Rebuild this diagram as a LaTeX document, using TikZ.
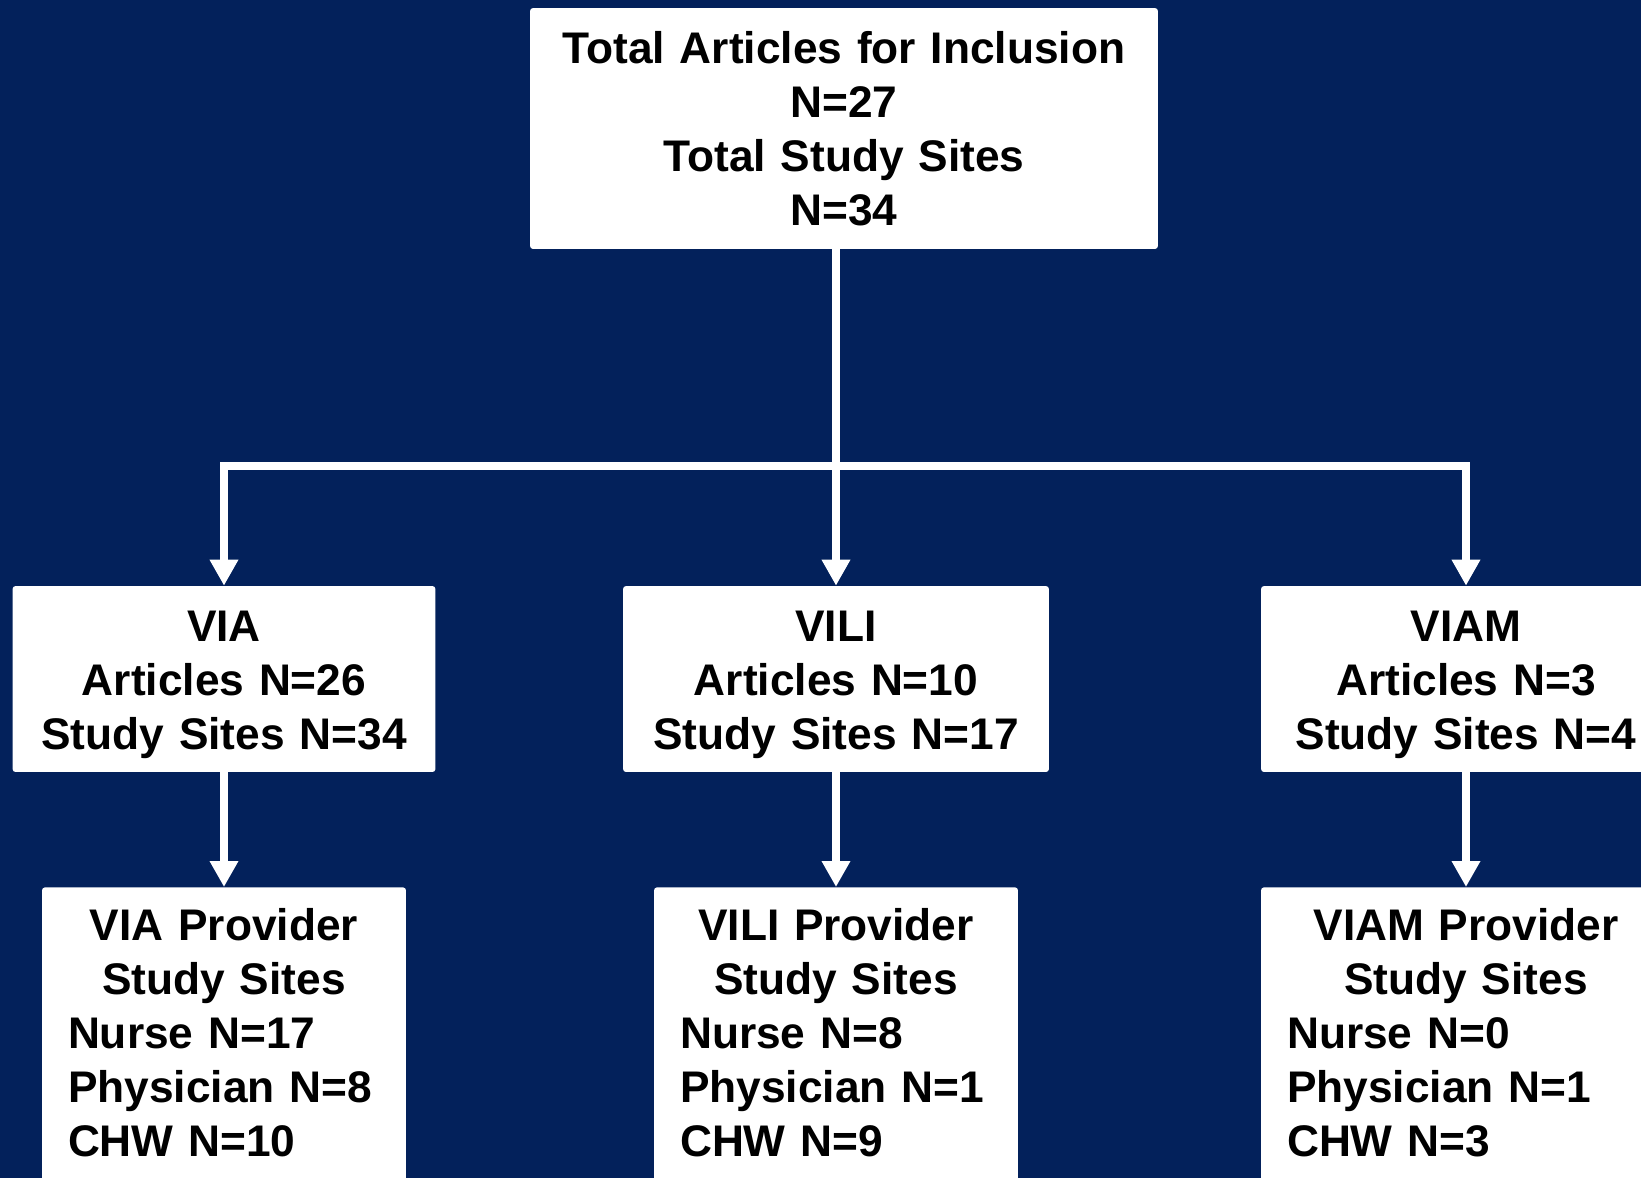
\documentclass[tikz,border=0pt]{standalone}
\usepackage{fontspec}
\setmainfont{Liberation Sans}
\usepackage{tikz}
\usetikzlibrary{arrows.meta,positioning}

\definecolor{navybg}{RGB}{3,33,91}

\begin{document}
\begin{tikzpicture}[x=0.02cm, y=-0.02cm,
        box/.style={fill=white, rounded corners=0.06cm, inner sep=0pt, align=center,
            font=\fontsize{25.2}{30.8}\selectfont\bfseries, text height=0.7cm},
        provbox/.style={fill=white, rounded corners=0.06cm, anchor=north,
            inner xsep=0.52cm, inner ysep=0.36cm, text height=0.7cm, text depth=4.84cm,
            font=\fontsize{25.2}{30.8}\selectfont\bfseries},
        link/.style={draw=white, line width=0.16cm, ->, >={Triangle[width=0.54cm,length=0.52cm]}}]
        \useasboundingbox (0,0) rectangle (1641,1178);
        \clip (0,0) rectangle (1641,1178);
        \fill[navybg] (0,0) rectangle (1641,1178);

        \node[box, text width=12.56cm, minimum height=4.82cm, text depth=3.32cm] (top) at (844,128.5)
            {Total Articles for Inclusion\\N=27\\Total Study Sites\\N=34};

        \node[box, text width=8.46cm, minimum height=3.72cm, text depth=2.22cm] (via) at (224,679)
            {VIA\\Articles N=26\\Study Sites N=34};
        \node[box, text width=8.52cm, minimum height=3.72cm, text depth=2.22cm] (vili) at (836,679)
            {VILI\\Articles N=10\\Study Sites N=17};
        \node[box, text width=8.2cm, minimum height=3.72cm, text depth=2.22cm] (viam) at (1466,679)
            {VIAM\\Articles N=3\\Study Sites N=4};

        \node[provbox, text width=6.24cm] (viap) at (224,887)
            {\centering VIA Provider\\Study Sites\par\raggedright Nurse N=17\\Physician N=8\\CHW N=10};
        \node[provbox, text width=6.24cm] (vilip) at (836,887)
            {\centering VILI Provider\\Study Sites\par\raggedright Nurse N=8\\Physician N=1\\CHW N=9};
        \node[provbox, text width=7.16cm] (viamp) at (1466,887)
            {\centering VIAM Provider\\Study Sites\par\raggedright Nurse N=0\\Physician N=1\\CHW N=3};

        \coordinate (split) at (836,466);
        \draw[link] (top.south -| vili.north) -- (vili.north);
        \draw[link] (split) -| (via.north);
        \draw[link] (split) -| (viam.north);

        \draw[link] (via.south) -- (viap.north);
        \draw[link] (vili.south) -- (vilip.north);
        \draw[link] (viam.south) -- (viamp.north);
    \end{tikzpicture}
\end{document}
